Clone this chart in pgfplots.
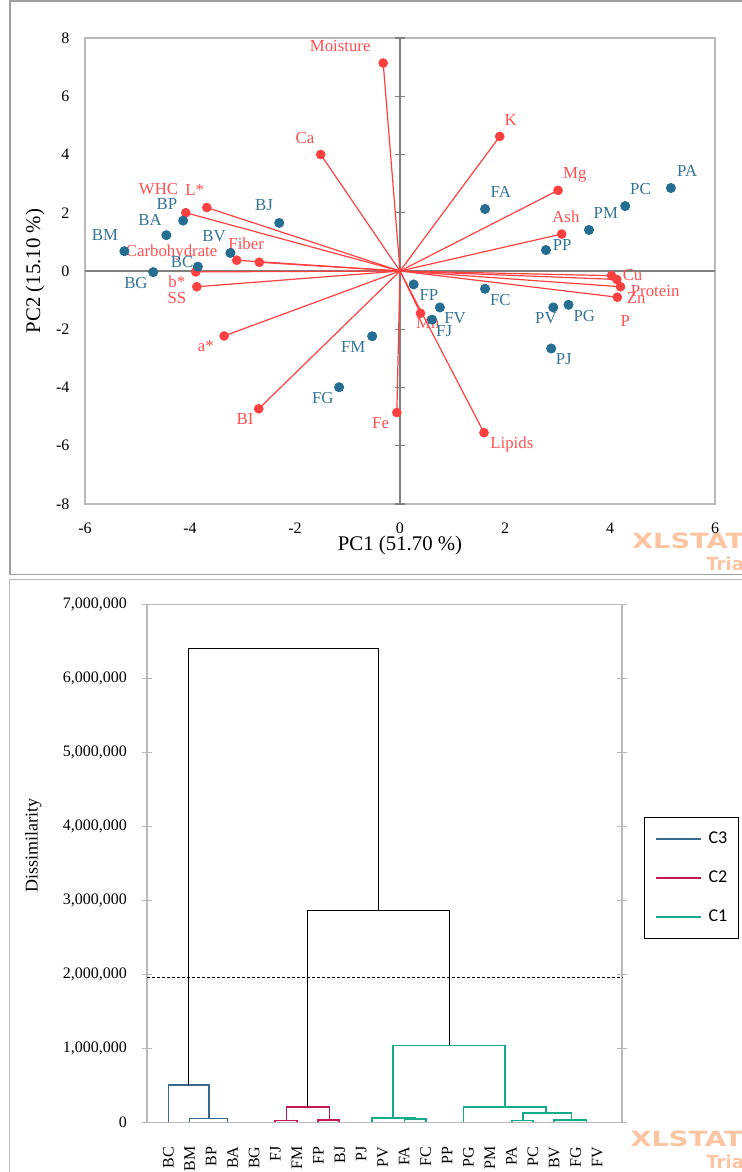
\documentclass[border=0pt]{standalone}
\usepackage{fontspec}
\setmainfont{Liberation Serif}
\newfontfamily\carlito{Carlito}
\newfontfamily\wmfont{DejaVu Sans}
\usepackage{pgfplots}
\usepackage{pgfplotstable}
\pgfplotsset{compat=1.18}

\definecolor{obsblue}{RGB}{38,110,145}
\definecolor{obstext}{RGB}{50,115,150}
\definecolor{varred}{RGB}{255,64,64}
\definecolor{vartext}{RGB}{255,80,80}
\definecolor{cthree}{RGB}{55,105,140}
\definecolor{ctwo}{RGB}{195,25,85}
\definecolor{cone}{RGB}{20,170,138}
\definecolor{wm}{RGB}{253,196,162}
\definecolor{framegray}{RGB}{185,185,185}
\definecolor{outergray}{RGB}{160,160,160}

\pgfplotstableread{
lab x y lx ly
Moisture -0.32 7.14 -1.14 7.73
Ca -1.51 4.00 -1.81 4.57
K 1.90 4.62 2.11 5.19
Mg 3.01 2.77 3.33 3.30
Ash 3.08 1.27 3.16 1.86
L* -3.68 2.18 -3.91 2.78
WHC -4.08 2.00 -4.60 2.82
Fiber -2.68 0.30 -2.93 0.93
Carbohydrate -3.11 0.37 -4.35 0.65
b* -3.89 -0.03 -4.25 -0.38
SS -3.87 -0.54 -4.25 -0.93
a* -3.35 -2.23 -3.70 -2.58
BI -2.69 -4.73 -2.95 -5.07
Fe -0.06 -4.86 -0.37 -5.21
Mn 0.39 -1.45 0.53 -1.80
Lipids 1.60 -5.55 2.13 -5.95
Cu 4.03 -0.16 4.43 -0.14
Protein 4.20 -0.54 4.86 -0.67
Zn 4.14 -0.90 4.50 -0.91
P 4.13 -0.29 4.29 -1.70
}\vars

\pgfplotstableread{
lab x y lx ly
PA 5.16 2.85 5.47 3.44
PC 4.29 2.23 4.58 2.82
PM 3.60 1.41 3.92 1.98
PP 2.78 0.72 3.09 0.91
FA 1.62 2.13 1.92 2.71
BJ -2.30 1.65 -2.59 2.27
BP -4.13 1.73 -4.44 2.30
BA -4.45 1.23 -4.76 1.75
BM -5.25 0.68 -5.62 1.24
BV -3.23 0.62 -3.54 1.20
BC -3.85 0.15 -4.15 0.31
BG -4.70 -0.04 -5.03 -0.41
FM -0.53 -2.24 -0.89 -2.61
FG -1.16 -3.99 -1.47 -4.35
FP 0.26 -0.46 0.55 -0.81
FC 1.62 -0.61 1.91 -1.00
FV 0.76 -1.25 1.05 -1.62
FJ 0.61 -1.67 0.84 -2.06
PV 2.92 -1.25 2.78 -1.62
PG 3.21 -1.16 3.51 -1.53
PJ 2.88 -2.66 3.12 -3.02
}\obs

\begin{document}
\begin{tikzpicture}
\path[use as bounding box] (0pt,0pt) rectangle (370.5pt,-586pt);
% outer frames
\draw[outergray, line width=0.7pt] (5pt,-0.6pt) rectangle (380pt,-287.2pt);
\draw[framegray, line width=0.7pt] (4.6pt,-289.8pt) rectangle (380pt,-600pt);

% watermarks
\node[anchor=base west, inner sep=0pt, text=wm, font=\wmfont\bfseries\fontsize{10.5}{11}\selectfont, xscale=1.3] at (315.8pt,-274pt) {XLSTAT};
\node[anchor=base west, inner sep=0pt, text=wm, font=\wmfont\bfseries\fontsize{9}{10}\selectfont] at (353pt,-285pt) {Trial};
\node[anchor=base west, inner sep=0pt, text=wm, font=\wmfont\bfseries\fontsize{10.5}{11}\selectfont, xscale=1.3] at (315pt,-573.3pt) {XLSTAT};
\node[anchor=base west, inner sep=0pt, text=wm, font=\wmfont\bfseries\fontsize{9}{10}\selectfont] at (353pt,-584pt) {Trial};

% ---------------- PCA biplot ----------------
\begin{axis}[
  at={(42.5pt,-19pt)}, anchor=north west,
  scale only axis, width=315pt, height=233pt,
  xmin=-6, xmax=6, ymin=-8, ymax=8,
  xtick={-6,-4,...,6}, ytick={-8,-6,...,8},
  axis line style={framegray, line width=0.8pt},
  major tick length=0pt,
  tick label style={font=\fontsize{8}{9}\selectfont},
  /pgf/number format/assume math mode=true,
  xticklabel style={yshift=-6pt},
  yticklabel style={xshift=-4.3pt},
  xlabel={PC1 (51.70 \%)}, ylabel={PC2 (15.10 \%)},
  label style={font=\fontsize{10.4}{12}\selectfont},
  xlabel style={at={(axis description cs:0.5,-0.088)}, anchor=center},
  ylabel style={at={(axis description cs:-0.079,0.5)}, anchor=center},
  clip=false,
]
\draw[gray, line width=0.65pt] (axis cs:-6,0) -- (axis cs:6,0);
\draw[gray, line width=0.65pt] (axis cs:0,-8) -- (axis cs:0,8);
\pgfplotsinvokeforeach{-8,-6,...,8}{
  \draw[gray, line width=0.6pt] ([xshift=-2.5pt]axis cs:0,#1) -- ([xshift=2.5pt]axis cs:0,#1);
}
% variable vectors
\addplot[varred, line width=0.6pt, no markers, quiver={u=\thisrow{x}, v=\thisrow{y}}]
  table[x expr=0, y expr=0] {\vars};
\addplot[only marks, mark=*, mark size=2.2pt, color=varred] table[x=x, y=y] {\vars};
\addplot[draw=none, no markers, nodes near coords, point meta=explicit symbolic,
  every node near coord/.append style={anchor=center, inner sep=0pt, text=vartext, font=\fontsize{8.4}{10}\selectfont}]
  table[x=lx, y=ly, meta=lab] {\vars};
% observations
\addplot[only marks, mark=*, mark size=2.3pt, color=obsblue] table[x=x, y=y] {\obs};
\addplot[draw=none, no markers, nodes near coords, point meta=explicit symbolic,
  every node near coord/.append style={anchor=center, inner sep=0pt, text=obstext, font=\fontsize{8.4}{10}\selectfont}]
  table[x=lx, y=ly, meta=lab] {\obs};
\end{axis}

% ---------------- Dendrogram ----------------
\begin{axis}[
  at={(73.45pt,-302.15pt)}, anchor=north west,
  scale only axis, width=237.55pt, height=259pt,
  xmin=0, xmax=22.16, ymin=0, ymax=7000000,
  xtick={1,...,21},
  xticklabels={BC,BM,BP,BA,BG,FJ,FM,FP,BJ,PJ,PV,FA,FC,PP,PG,PM,PA,PC,BV,FG,FV},
  ytick={0,1000000,...,7000000},
  scaled y ticks=false,
  /pgf/number format/assume math mode=true,
  yticklabel style={/pgf/number format/fixed, /pgf/number format/1000 sep={,}, xshift=-4pt, font=\fontsize{8}{9}\selectfont},
  xticklabel style={yshift=-9.5pt, rotate=90, anchor=east, inner sep=0pt, font=\fontsize{8}{9}\selectfont},
  axis line style={framegray, line width=0.8pt},
  tick align=center, major tick length=5pt,
  x tick style={draw=none},
  y tick style={framegray, line width=0.6pt},
  ylabel={Dissimilarity},
  ylabel style={at={(axis description cs:-0.239,0.535)}, anchor=center, font=\fontsize{9}{10}\selectfont},
  unbounded coords=jump,
  clip=false,
  legend style={at={(1.046,0.589)}, anchor=north west, draw=black, line width=0.5pt,
    inner xsep=5.5pt, inner ysep=7pt, row sep=12pt, column sep=3.35pt,
    font=\carlito\fontsize{9}{10}\selectfont,
    nodes={inner sep=0pt, text height=6pt, text depth=1.5pt}, cells={anchor=west}},
  legend image code/.code={\draw[#1, line width=0.75pt] (0pt,0pt) -- (22.5pt,0pt);},
]
% threshold
\addplot[forget plot, black, line width=0.5pt, dash pattern=on 1.5pt off 1pt] coordinates {(0,1954000) (22.16,1954000)};
% C3
\addplot[forget plot, cthree, line width=0.8pt] coordinates {
(1.00,0) (1.00,504000) (2.90,504000) (2.90,54000) (nan,nan)
(1.98,0) (1.98,54000) (3.75,54000) (3.75,0)
};
% C2
\addplot[forget plot, ctwo, line width=0.8pt] coordinates {
(5.97,0) (5.97,22000) (6.99,22000) (6.99,0) (nan,nan)
(7.97,0) (7.97,31000) (8.97,31000) (8.97,0) (nan,nan)
(6.52,22000) (6.52,203000) (8.51,203000) (8.51,31000)
};
% C1
\addplot[forget plot, cone, line width=0.8pt] coordinates {
(10.49,0) (10.49,62000) (12.50,62000) (12.50,41000) (nan,nan)
(12.01,0) (12.01,41000) (13.02,41000) (13.02,0) (nan,nan)
(11.49,62000) (11.49,1040000) (16.70,1040000) (16.70,203000) (nan,nan)
(14.76,0) (14.76,203000) (18.61,203000) (18.61,122000) (nan,nan)
(17.53,22000) (17.53,122000) (19.81,122000) (19.81,31000) (nan,nan)
(17.02,0) (17.02,22000) (18.02,22000) (18.02,0) (nan,nan)
(19.00,0) (19.00,31000) (20.51,31000) (20.51,0)
};
% upper links
\addplot[forget plot, black, line width=0.7pt] coordinates {
(1.93,504000) (1.93,6405000) (10.81,6405000) (10.81,2860000) (nan,nan)
(7.50,203000) (7.50,2860000) (14.12,2860000) (14.12,1040000)
};
\addlegendimage{cthree}\addlegendentry{C3}
\addlegendimage{ctwo}\addlegendentry{C2}
\addlegendimage{cone}\addlegendentry{C1}
\end{axis}
\end{tikzpicture}
\end{document}
